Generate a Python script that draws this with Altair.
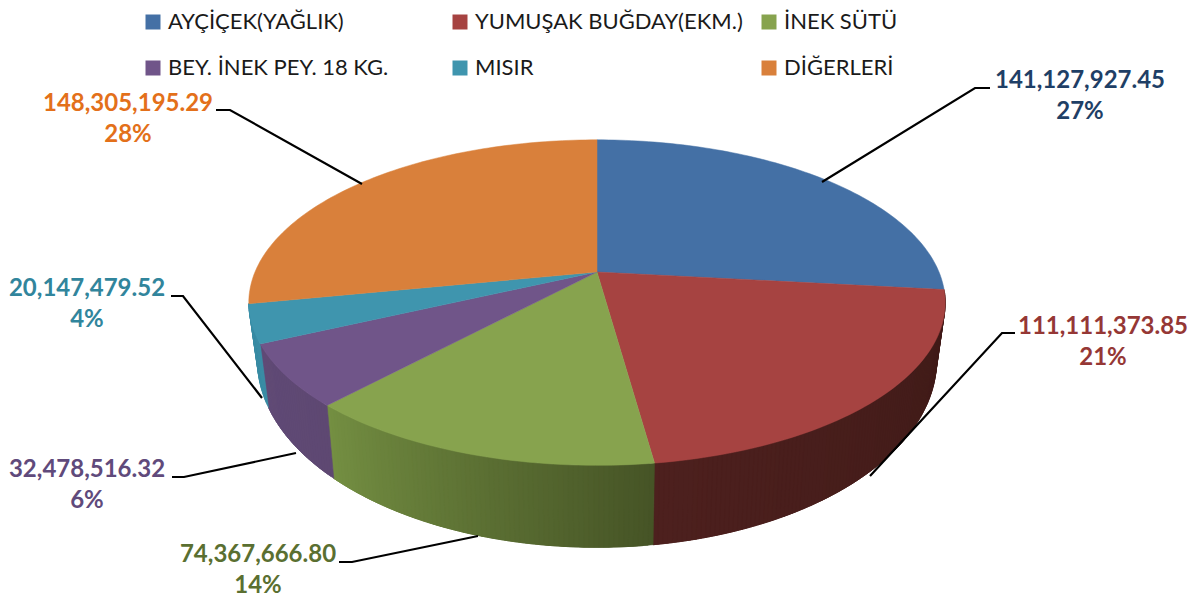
import math
import altair as alt
import pandas as pd

names = ["AYÇİÇEK(YAĞLIK)", "YUMUŞAK BUĞDAY(EKM.)", "İNEK SÜTÜ", "BEY. İNEK PEY. 18 KG.", "MISIR", "DİĞERLERİ"]
values = [141127927.45, 111111373.85, 74367666.80, 32478516.32, 20147479.52, 148305195.29]
value_labels = ["141,127,927.45", "111,111,373.85", "74,367,666.80", "32,478,516.32", "20,147,479.52", "148,305,195.29"]
pct_labels = ["27%", "21%", "14%", "6%", "4%", "28%"]
top_colors = ["#4470a5", "#a64341", "#87a34e", "#705589", "#3f95ae", "#d9803b"]
text_colors = ["#1f3f66", "#953735", "#5a6f31", "#604a7b", "#31859c", "#e3701a"]
side_start = ["#2d4a6e", "#3e1a17", "#465426", "#5e4872", "#3a8ca5", "#b06a30"]
side_end = ["#2d4a6e", "#4d201e", "#748f42", "#604a76", "#3a8ca5", "#b06a30"]
side_slices = [1, 2, 3, 4]

legend_x = [153, 460, 769, 153, 460, 769]
legend_y = [22, 22, 22, 68, 68, 68]
label_x = [1080, 1103, 258, 87, 87, 128]
label_y = [81, 327, 555, 470, 289, 104]
leader_x = [[990, 975, 822], [1015, 1002, 870], [339, 352, 478], [172, 184, 296], [171, 183, 262], [216, 230, 362]]
leader_y = [[88, 88, 182], [333, 333, 476], [562, 562, 536], [477, 477, 453], [296, 296, 398], [110, 110, 184]]

CX, CY, R, S, K = 597, 272, 342, 157, 0.188
BX, BY, BR, BS = 597, 325, 333.5, 180.5


def top(t):
    w = 1 + K * math.cos(t)
    return CX + R * math.sin(t) / w, CY - S * math.cos(t) / w


def bottom(t):
    w = 1 + K * math.cos(t)
    return BX + BR * math.sin(t) / w, BY - BS * math.cos(t) / w


def hexmix(a, b, f):
    pa = [int(a[i:i + 2], 16) for i in (1, 3, 5)]
    pb = [int(b[i:i + 2], 16) for i in (1, 3, 5)]
    return "#%02x%02x%02x" % tuple(round(x + (y - x) * f) for x, y in zip(pa, pb))


total = sum(values)
edges = [0.0]
for v in values:
    edges.append(edges[-1] + v / total * 2 * math.pi)

rows = []
pid = 0


def add(points, color):
    global pid
    for i, (x, y) in enumerate(points + points[:1]):
        rows.append({"x": x, "y": y, "id": pid, "i": i, "c": color})
    pid += 1


# side wall: narrow overlapping bands, each painted over the last so no seams show
for s in side_slices:
    a, b = edges[s], edges[s + 1]
    lo, hi = max(a, math.pi / 2), min(b, 3 * math.pi / 2)
    n = max(2, int((hi - lo) / 0.012))
    ts = [lo + (hi - lo) * j / n for j in range(n + 1)]
    for j in range(n):
        tail = ts[j:j + 4]
        pts = [top(t) for t in tail] + [bottom(t) for t in reversed(tail)]
        add(pts, hexmix(side_start[s], side_end[s], (j + 0.5) / n))

# top wedges
for s, (a, b) in enumerate(zip(edges[:-1], edges[1:])):
    n = max(8, int((b - a) / 0.02))
    pts = [(CX, CY)] + [top(a + (b - a) * j / n) for j in range(n + 1)]
    add(pts, top_colors[s])

df = pd.DataFrame(rows)

xs = alt.Scale(domain=[8, 1190], range=[0, 1182])
ys = alt.Scale(domain=[8, 599], range=[0, 591])
X = lambda f="x": alt.X(f"{f}:Q", scale=xs, axis=None)
Y = lambda f="y": alt.Y(f"{f}:Q", scale=ys, axis=None)

pie = alt.Chart(df).mark_line(filled=True, strokeWidth=0.5).encode(
    x=X(), y=Y(), detail="id:N", order="i:Q",
    fill=alt.Fill("c:N", scale=None), stroke=alt.Stroke("c:N", scale=None),
)

lead = pd.DataFrame([
    {"x": x, "y": y, "s": s, "i": i}
    for s, (lx, ly) in enumerate(zip(leader_x, leader_y))
    for i, (x, y) in enumerate(zip(lx, ly))
])
leaders = alt.Chart(lead).mark_line(color="#000000", strokeWidth=2.2).encode(
    x=X(), y=Y(), detail="s:N", order="i:Q")

lab = pd.DataFrame({"x": label_x, "y": label_y, "v": value_labels, "p": pct_labels, "c": text_colors})
lab["y2"] = lab["y"] + 31
font = "Lato"
val_text = alt.Chart(lab).mark_text(font=font, fontWeight="bold", fontSize=24).encode(
    x=X(), y=Y(), text="v:N", color=alt.Color("c:N", scale=None))
pct_text = alt.Chart(lab).mark_text(font=font, fontWeight="bold", fontSize=24).encode(
    x=X(), y=Y("y2"), text="p:N", color=alt.Color("c:N", scale=None))

leg = pd.DataFrame({"x": legend_x, "y": legend_y, "n": names, "c": top_colors})
leg["tx"] = leg["x"] + 15
swatch = alt.Chart(leg).mark_square(size=225, opacity=1).encode(
    x=X(), y=Y(), fill=alt.Fill("c:N", scale=None), stroke=alt.value(None))
leg_text = alt.Chart(leg).mark_text(font=font, fontSize=22, align="left", color="#1a1a1a").encode(
    x=X("tx"), y=Y(), text="n:N")

chart = alt.layer(pie, leaders, val_text, pct_text, swatch, leg_text).properties(
    width=1182, height=591, padding=0, background="#ffffff",
    autosize=alt.AutoSizeParams(type="none"),
).configure_view(stroke=None)
chart.save("out.html", embed_options={"renderer": "svg", "actions": False})
